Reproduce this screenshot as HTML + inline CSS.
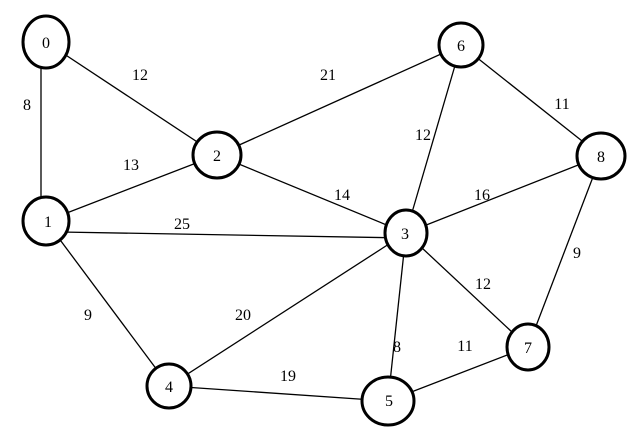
<!DOCTYPE html><html><head><style>body{margin:0;background:#fff}svg{display:block}text{font-family:"Liberation Serif",serif;font-size:16px;fill:#000}</style></head><body>
<svg width="636" height="444" viewBox="0 0 636 444">
<g stroke="#000" stroke-width="1.3">
<line x1="41" y1="42" x2="41" y2="221"/>
<line x1="46" y1="42" x2="217" y2="155"/>
<line x1="46" y1="221" x2="217" y2="155"/>
<line x1="60" y1="232" x2="406" y2="238"/>
<line x1="46" y1="221" x2="169" y2="386"/>
<line x1="217" y1="155" x2="461" y2="45"/>
<line x1="217" y1="155" x2="406" y2="233"/>
<line x1="406" y1="233" x2="461" y2="45"/>
<line x1="406" y1="233" x2="601" y2="156"/>
<line x1="406" y1="233" x2="528" y2="347"/>
<line x1="406" y1="233" x2="388" y2="401"/>
<line x1="406" y1="233" x2="169" y2="386"/>
<line x1="461" y1="45" x2="601" y2="156"/>
<line x1="601" y1="156" x2="528" y2="347"/>
<line x1="169" y1="386" x2="388" y2="401"/>
<line x1="388" y1="401" x2="528" y2="347"/>
</g>
<g stroke="#000" stroke-width="3" fill="#fff">
<ellipse cx="46" cy="42" rx="23" ry="26"/>
<ellipse cx="46" cy="221" rx="23" ry="24"/>
<ellipse cx="217" cy="155" rx="24" ry="23"/>
<ellipse cx="461" cy="45" rx="22" ry="22"/>
<ellipse cx="601" cy="156" rx="24" ry="23"/>
<ellipse cx="406" cy="233" rx="21" ry="23"/>
<ellipse cx="528" cy="347" rx="21" ry="23"/>
<ellipse cx="169" cy="386" rx="22" ry="22"/>
<ellipse cx="388" cy="401" rx="26" ry="24"/>
</g>
<g text-anchor="middle">
<text x="46" y="48">0</text><text x="48" y="227">1</text><text x="217" y="161">2</text>
<text x="405" y="239">3</text><text x="169" y="392">4</text><text x="389" y="406">5</text>
<text x="461" y="51">6</text><text x="528" y="353">7</text><text x="601" y="162">8</text>
<text x="27" y="110">8</text><text x="140" y="80">12</text><text x="131" y="170">13</text>
<text x="182" y="229">25</text><text x="88" y="320">9</text><text x="328" y="80">21</text>
<text x="342" y="200">14</text><text x="423" y="140">12</text><text x="482" y="200">16</text>
<text x="562" y="109">11</text><text x="577" y="258">9</text><text x="483" y="289">12</text>
<text x="397" y="352">8</text><text x="465" y="351">11</text><text x="243" y="320">20</text>
<text x="288" y="381">19</text>
</g>
</svg></body></html>
